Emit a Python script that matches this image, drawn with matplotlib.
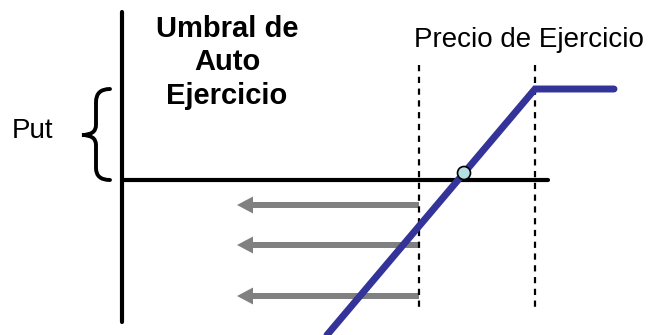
import matplotlib
matplotlib.use('Agg')
import matplotlib.pyplot as plt
from matplotlib.path import Path
from matplotlib.patches import PathPatch, Circle

# layout in picture units (x right, y down)
axis_x = [122, 122]
axis_y = [12, 322]
zero_x = [122, 548]
zero_y = [180, 180]

strikes = [419, 535]
strike_top = 65
strike_bottom = 308

payoff_x = [327, 535, 614]
payoff_y = [335, 89, 89]

breakeven = (464, 173)

arrow_levels = [205, 245, 296]
arrow_start = 419
arrow_end = 237

title_lines = ["Umbral de", "Auto", "Ejercicio"]
title_baselines = [37, 70, 104]
strike_label = "Precio de Ejercicio"
side_label = "Put"

plt.rcParams['font.family'] = ['Liberation Sans', 'DejaVu Sans']

fig = plt.figure(figsize=(6.58, 3.35), dpi=100)
ax = fig.add_axes([0, 0, 1, 1])
ax.set_xlim(0, 658)
ax.set_ylim(335, 0)
ax.axis('off')

# axes
ax.plot(axis_x, axis_y, color='black', lw=3.0, solid_capstyle='round')
ax.plot(zero_x, zero_y, color='black', lw=3.0, solid_capstyle='round')

# strike lines
for s in strikes:
    ax.plot([s, s], [strike_top, strike_bottom], color='black', lw=1.6,
            linestyle=(0, (2.8, 2.5)))

# arrows
for lvl in arrow_levels:
    ax.arrow(arrow_start, lvl, arrow_end - arrow_start, 0, width=6,
             head_width=17, head_length=16, length_includes_head=True,
             color='#808080', lw=0)

# payoff
ax.plot(payoff_x, payoff_y, color='#333399', lw=5, solid_capstyle='round',
        solid_joinstyle='miter', zorder=5)
ax.add_patch(Circle(breakeven, 6.5, facecolor='#b3e0e0', edgecolor='black',
                    lw=1.2, zorder=6))

# brace
verts = [(110, 89), (96, 89), (96, 102),
         (96, 125), (96, 135), (82, 135),
         (96, 135), (96, 145), (96, 168),
         (96, 180), (110, 180)]
codes = [Path.MOVETO, Path.CURVE3, Path.CURVE3,
         Path.LINETO, Path.CURVE3, Path.CURVE3,
         Path.CURVE3, Path.CURVE3, Path.LINETO,
         Path.CURVE3, Path.CURVE3]
ax.add_patch(PathPatch(Path(verts, codes), facecolor='none', edgecolor='black',
                       lw=2.8, capstyle='round'))

# text
for line, base in zip(title_lines, title_baselines):
    ax.text(227, base, line, ha='center', va='baseline', fontsize=21,
            fontweight='bold')
ax.text(529, 47, strike_label, ha='center', va='baseline', fontsize=20)
ax.text(32, 138, side_label, ha='center', va='baseline', fontsize=20)

fig.savefig('out.png', dpi=100)
